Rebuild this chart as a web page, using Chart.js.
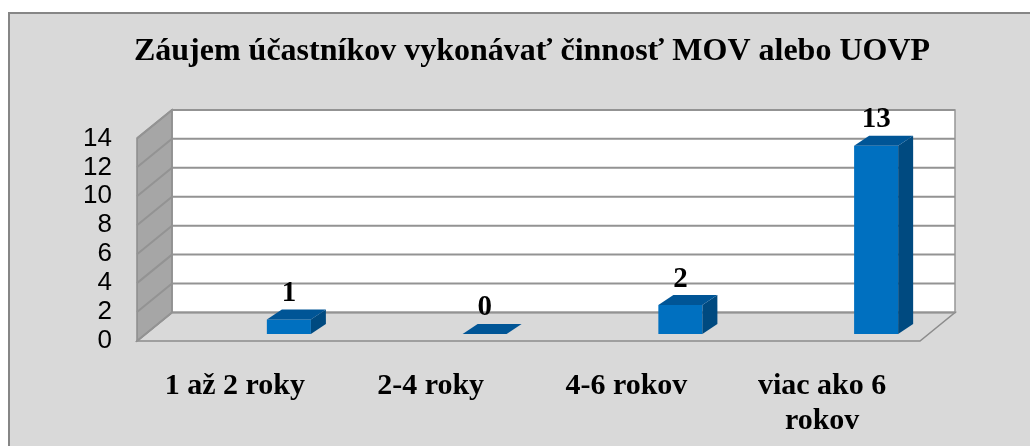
<!DOCTYPE html>
<html>
<head>
<meta charset="utf-8">
<script src="https://cdn.jsdelivr.net/npm/chart.js"></script>
<style>
body { margin: 0; background: #fff; }
</style>
</head>
<body>
<canvas id="myChart" width="1030" height="446"></canvas>
<script>
var categories = ['1 až 2 roky', '2-4 roky', '4-6 rokov', ['viac ako 6', 'rokov']];
var values = [1, 0, 2, 13];
var yTicks = [0, 2, 4, 6, 8, 10, 12, 14];
var titleText = 'Záujem účastníkov vykonávať činnosť MOV alebo UOVP';

var serif = '"Liberation Serif", "Times New Roman", serif';
var sans = '"Liberation Sans", Arial, sans-serif';

// 3d look
var wallDepth = { dx: 35, dy: -28.5 };
var barShift = { dx: 54, dy: -7 };
var barDepth = { dx: 15, dy: -10 };

function poly(c, pts, fill, stroke) {
    c.beginPath();
    c.moveTo(pts[0][0], pts[0][1]);
    for (var i = 1; i < pts.length; i++) c.lineTo(pts[i][0], pts[i][1]);
    c.closePath();
    if (fill) { c.fillStyle = fill; c.fill(); }
    if (stroke) { c.strokeStyle = stroke; c.stroke(); }
}

var walls3d = {
    id: 'walls3d',
    beforeDraw: function(chart) {
        var c = chart.ctx;
        c.save();
        c.fillStyle = '#fff';
        c.fillRect(0, 0, chart.width, chart.height);
        c.fillStyle = '#d9d9d9';
        c.fillRect(8, 12, chart.width - 8, chart.height - 12);
        c.fillStyle = '#868686';
        c.fillRect(8, 12, chart.width - 8, 2);
        c.fillRect(8, 12, 2, chart.height - 12);
        c.restore();
    },
    beforeDatasetsDraw: function(chart) {
        var c = chart.ctx, a = chart.chartArea, y = chart.scales.y;
        var L = a.left, R = a.right;
        var B = y.getPixelForValue(0), T = y.getPixelForValue(14);
        var dx = wallDepth.dx, dy = wallDepth.dy;
        c.save();
        c.lineWidth = 1.5;
        // back wall
        poly(c, [[L + dx, T + dy], [R + dx, T + dy], [R + dx, B + dy], [L + dx, B + dy]], '#fff', '#969696');
        // floor
        poly(c, [[L, B], [R, B], [R + dx, B + dy], [L + dx, B + dy]], '#d9d9d9', '#8c8c8c');
        // left wall
        poly(c, [[L, B], [L, T], [L + dx, T + dy], [L + dx, B + dy]], '#a6a6a6', '#8c8c8c');
        // grid lines
        c.strokeStyle = '#939393';
        c.lineWidth = 2;
        yTicks.forEach(function(v) {
            var py = y.getPixelForValue(v);
            c.beginPath();
            c.moveTo(L, py);
            c.lineTo(L + dx, py + dy);
            c.lineTo(R + dx, py + dy);
            c.stroke();
        });
        c.restore();

        c.save();
        c.translate(barShift.dx, barShift.dy);
    },
    afterDatasetsDraw: function(chart) {
        var c = chart.ctx;
        var meta = chart.getDatasetMeta(0);
        meta.data.forEach(function(bar, i) {
            var p = bar.getProps(['x', 'y', 'base', 'width'], true);
            var l = p.x - p.width / 2, r = p.x + p.width / 2;
            var dx = barDepth.dx, dy = barDepth.dy;
            if (p.base - p.y > 0.5) {
                poly(c, [[r, p.y], [r + dx, p.y + dy], [r + dx, p.base + dy], [r, p.base]], '#004a80');
            }
            poly(c, [[l, p.y], [l + dx, p.y + dy], [r + dx, p.y + dy], [r, p.y]], '#005596');
            c.fillStyle = '#000';
            c.font = 'bold 29px ' + serif;
            c.textAlign = 'center';
            c.textBaseline = 'middle';
            c.fillText(String(values[i]), p.x, p.y - 26);
        });
        c.restore();
    }
};

var ctx = document.getElementById('myChart').getContext('2d');

var myChart = new Chart(ctx, {
    type: 'bar',
    data: {
        labels: categories,
        datasets: [{
            data: values,
            backgroundColor: '#0070c0',
            borderWidth: 0,
            barPercentage: 0.9,
            categoryPercentage: 0.25,
            clip: false
        }]
    },
    options: {
        responsive: false,
        animation: false,
        devicePixelRatio: 1,
        layout: { padding: { left: 34, right: 0, top: 0, bottom: 0 } },
        plugins: {
            legend: { display: false },
            tooltip: { enabled: false },
            title: {
                display: true,
                text: titleText,
                color: '#000',
                font: { family: serif, size: 32, weight: 'bold', lineHeight: 1.2 },
                padding: { top: 33, bottom: 67 }
            }
        },
        scales: {
            x: {
                grid: { display: false, drawTicks: false },
                border: { display: false },
                ticks: {
                    color: '#000',
                    padding: 28,
                    maxRotation: 0,
                    font: { family: serif, size: 30, weight: 'bold', lineHeight: 1.15 }
                },
                afterFit: function(s) { s.height = 105; }
            },
            y: {
                min: 0,
                max: 14,
                afterBuildTicks: function(s) {
                    s.ticks = yTicks.map(function(v) { return { value: v }; });
                },
                grid: { display: false, drawTicks: false },
                border: { display: false },
                ticks: {
                    color: '#000',
                    padding: 25,
                    autoSkip: false,
                    font: { family: sans, size: 26 }
                },
                afterFit: function(s) { s.width = 103; }
            },
            // empty right axis keeps room for the 3d depth
            yRight: {
                position: 'right',
                grid: { display: false, drawTicks: false },
                border: { display: false },
                ticks: { display: false },
                afterFit: function(s) { s.width = 110; }
            }
        }
    },
    plugins: [walls3d]
});
</script>
</body>
</html>
